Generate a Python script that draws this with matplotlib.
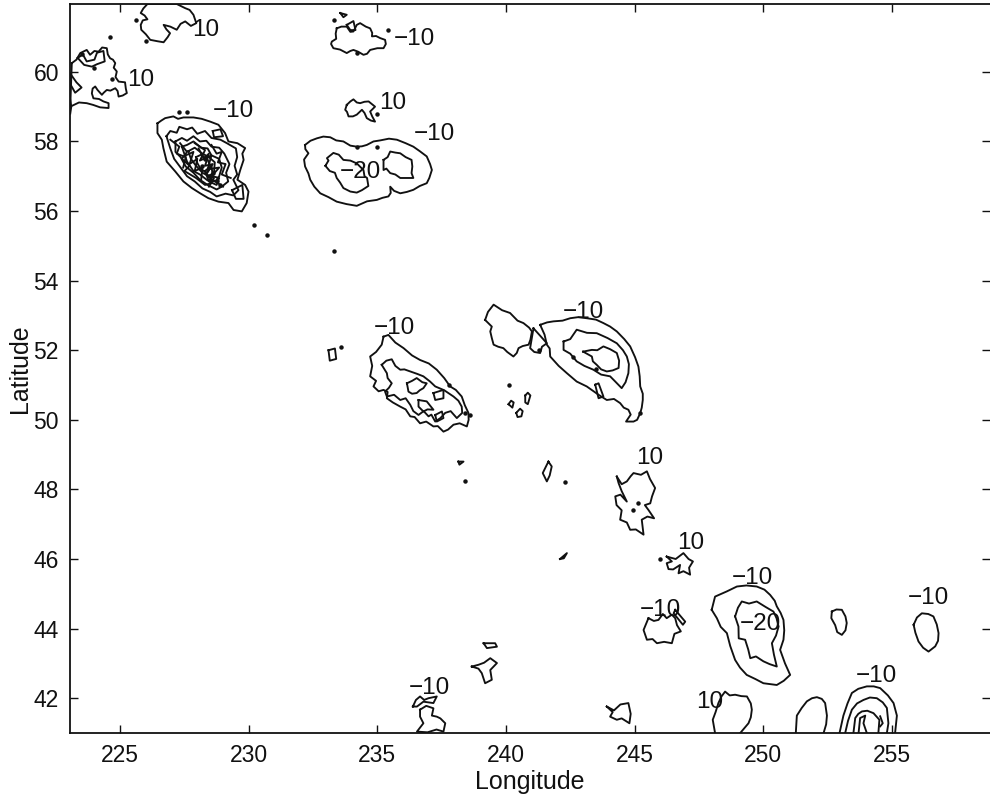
import numpy as np
import matplotlib
matplotlib.use('Agg')
import matplotlib.pyplot as plt

plt.rcParams['font.family'] = ['Liberation Sans', 'DejaVu Sans']

xticks = [225, 230, 235, 240, 245, 250, 255]
yticks = [42, 44, 46, 48, 50, 52, 54, 56, 58, 60]

# closed contours, (longitude, latitude)
top_left = [(226.06,61.95),(225.9,61.82),(225.8,61.69),(225.95,61.62),(226.06,61.51),(225.88,61.48),(225.8,61.35),(225.82,61.21),(226.0,61.08),(226.17,60.92),(226.45,60.88),(226.69,60.85),(226.85,61.0),(226.94,61.11),(226.8,61.22),(226.69,61.35),(226.95,61.3),(227.2,61.21),(227.35,61.38),(227.53,61.45),(227.75,61.32),(227.96,61.40),(227.85,61.64),(227.7,61.78),(227.53,61.83),(227.2,61.95)]
far_left = [(223.12,60.25),(223.3,60.35),(223.45,60.54),(223.70,60.63),(223.83,60.49),(224.0,60.6),(224.16,60.58),(224.3,60.7),(224.48,60.68),(224.52,60.5),(224.61,60.39),(224.72,60.35),(224.81,60.25),(224.75,60.12),(224.87,60.01),(224.82,59.85),(224.94,59.72),(225.19,59.7),(225.22,59.52),(225.26,59.39),(225.1,59.32),(224.94,59.29),(224.9,59.45),(224.81,59.53),(224.62,59.46),(224.48,59.48),(224.36,59.4),(224.29,59.34),(224.12,59.48),(224.03,59.58),(223.93,59.52),(223.9,59.38),(223.96,59.24),(224.18,59.22),(224.35,59.15),(224.55,59.1),(224.55,58.96),(224.22,58.98),(223.95,59.05),(223.7,59.10),(223.4,59.12),(223.06,59.0)]
far_left_in = [(223.35,60.4),(223.55,60.5),(223.7,60.3),(224.0,60.35),(224.1,60.55),(224.35,60.6),(224.4,60.3),(224.1,60.22),(223.9,60.15),(223.6,60.2)]
far_left_bar = [(223.06,59.95),(223.3,59.7),(223.5,59.55),(223.25,59.4),(223.06,59.65)]
top_mid = [(233.42,61.25),(233.6,61.3),(233.81,61.30),(233.95,61.15),(234.07,61.16),(234.2,61.35),(234.33,61.40),(234.55,61.3),(234.72,61.25),(234.8,61.12),(234.79,61.02),(234.95,61.03),(235.11,60.97),(235.3,60.92),(235.33,60.8),(235.24,60.68),(235.0,60.68),(234.72,60.63),(234.6,60.52),(234.46,60.49),(234.25,60.58),(234.07,60.63),(233.95,60.6),(233.81,60.54),(233.55,60.64),(233.29,60.68),(233.2,60.8),(233.23,60.87),(233.4,60.95),(233.38,61.1)]
top_mid_a = [(233.56,61.69),(233.81,61.64),(233.68,61.57)]
top_mid_b = [(233.81,61.35),(234.07,61.46),(234.15,61.2),(233.95,61.2)]
ten_mid = [(233.81,59.05),(233.95,59.15),(234.07,59.21),(234.2,59.12),(234.33,59.1),(234.5,59.14),(234.66,59.15),(234.91,59.0),(234.72,58.86),(234.8,58.72),(234.91,58.57),(234.75,58.6),(234.59,58.67),(234.5,58.82),(234.4,58.91),(234.2,58.77),(234.05,58.72),(233.88,58.72),(233.82,58.85),(233.75,58.91)]
oval_out = [(232.19,57.90),(232.4,58.02),(232.65,58.09),(232.9,58.14),(233.17,58.12),(233.4,58.03),(233.68,58.0),(233.95,57.88),(234.2,57.85),(234.4,57.86),(234.59,57.90),(234.85,58.0),(235.11,58.03),(235.45,58.08),(235.76,58.05),(236.1,57.95),(236.4,57.85),(236.65,57.72),(236.92,57.57),(237.05,57.35),(237.12,57.18),(237.02,56.95),(236.92,56.8),(236.65,56.72),(236.4,56.61),(236.15,56.55),(235.89,56.51),(235.65,56.58),(235.5,56.7),(235.52,56.52),(235.43,56.42),(235.2,56.38),(234.98,56.32),(234.6,56.28),(234.2,56.15),(233.8,56.2),(233.42,56.27),(233.1,56.4),(232.78,56.51),(232.55,56.7),(232.39,56.9),(232.32,57.08),(232.19,57.28),(232.15,57.48),(232.32,57.66),(232.2,57.78)]
oval_in_l = [(232.98,57.3),(233.1,57.45),(233.04,57.52),(233.29,57.67),(233.5,57.62),(233.68,57.47),(233.95,57.45),(234.2,57.37),(234.35,57.26),(234.46,57.18),(234.5,57.0),(234.6,56.95),(234.65,56.72),(234.4,56.6),(234.2,56.53),(233.95,56.56),(233.68,56.66),(233.55,56.82),(233.42,56.95),(233.35,57.1),(233.15,57.15)]
oval_in_r = [(235.24,57.47),(235.4,57.55),(235.5,57.71),(235.7,57.68),(235.89,57.66),(236.1,57.55),(236.33,57.47),(236.36,57.28),(236.33,57.09),(236.4,56.95),(235.89,56.95),(235.7,57.05),(235.5,57.09),(235.35,57.22),(235.24,57.18)]
cluster_out = [(226.45,58.52),(226.6,58.6),(226.75,58.67),(227.07,58.72),(227.25,58.65),(227.46,58.69),(227.85,58.69),(228.17,58.65),(228.5,58.57),(228.82,58.48),(229.08,58.24),(229.21,58.0),(229.56,57.95),(229.86,57.81),(229.75,57.65),(229.8,57.47),(229.67,57.18),(229.56,56.9),(229.86,56.75),(229.99,56.56),(229.92,56.23),(229.73,55.99),(229.41,56.03),(229.21,56.23),(228.82,56.27),(228.43,56.37),(228.11,56.51),(227.79,56.66),(227.46,56.85),(227.14,57.14),(226.81,57.42),(226.68,57.81),(226.62,58.05),(226.45,58.24)]
cluster_1 = [(226.8,58.15),(226.95,58.3),(227.2,58.25),(227.3,58.42),(227.6,58.35),(227.8,58.4),(228.0,58.22),(228.3,58.3),(228.55,58.1),(228.9,58.05),(229.15,57.95),(229.5,57.8),(229.55,57.55),(229.45,57.3),(229.55,57.05),(229.4,56.9),(229.6,56.6),(229.4,56.45),(229.1,56.5),(228.75,56.42),(228.5,56.55),(228.2,56.65),(227.9,56.85),(227.6,57.0),(227.3,57.3),(227.1,57.5),(226.95,57.8)]
cluster_2 = [(227.15,58.0),(227.4,58.1),(227.6,58.02),(227.85,58.15),(228.1,58.0),(228.35,58.02),(228.55,57.85),(228.85,57.82),(229.05,57.65),(229.25,57.35),(229.12,57.1),(229.2,56.85),(228.95,56.7),(228.75,56.62),(228.4,56.75),(228.1,56.9),(227.85,57.1),(227.55,57.28),(227.35,57.55),(227.15,57.7)]
cluster_3 = [(227.4,57.85),(227.6,57.9),(227.85,58.0),(228.15,57.82),(228.4,57.8),(228.55,57.6),(228.85,57.5),(228.95,57.25),(228.85,57.0),(228.7,56.85),(228.4,56.88),(228.1,57.05),(227.85,57.15),(227.6,57.42)]
cluster_4 = [(227.65,57.72),(227.9,57.82),(228.2,57.65),(228.45,57.55),(228.68,57.4),(228.65,57.12),(228.45,57.0),(228.2,57.1),(227.95,57.3),(227.75,57.5)]
cluster_5 = [(227.95,57.55),(228.15,57.62),(228.4,57.48),(228.52,57.25),(228.35,57.1),(228.12,57.22),(228.0,57.38)]
cluster_6 = [(227.33,57.95),(227.6,57.7),(227.4,57.5),(227.7,57.3),(227.5,57.15),(227.95,56.95),(228.3,56.75),(228.55,56.8)]
cluster_7 = [(227.9,57.95),(228.3,57.75),(228.1,57.45),(228.55,57.6),(228.4,57.2),(228.85,57.25),(228.5,56.95),(229.0,56.7)]
cluster_8 = [(228.6,58.3),(228.9,58.35),(229.0,58.15),(228.65,58.12)]
cluster_9 = [(229.35,56.6),(229.75,56.75),(229.8,56.35),(229.5,56.35)]
cluster_10 = [(228.05,57.8),(228.25,57.5),(228.45,57.65),(228.3,57.3),(228.6,57.35),(228.35,57.05),(228.65,56.95),(228.45,56.7)]
cluster_11 = [(227.55,57.6),(227.85,57.7),(227.7,57.35),(228.0,57.5),(227.9,57.15),(228.2,57.25),(228.15,56.9)]
cluster_12 = [(228.55,57.9),(228.75,57.65),(228.95,57.7),(228.8,57.4),(229.1,57.35),(228.95,57.05),(229.3,56.95)]
cluster_13 = [(228.3,57.15),(228.55,57.3),(228.6,57.0),(228.85,56.95),(228.75,56.75),(228.45,56.85)]
cluster_14 = [(226.95,58.05),(227.3,57.85),(227.2,57.65),(227.55,57.55),(227.45,57.25)]
lobe_west = [(235.24,52.39),(235.43,52.44),(235.7,52.22),(236.02,52.06),(236.35,51.85),(236.66,51.72),(237.0,51.62),(237.31,51.44),(237.6,51.2),(237.83,50.96),(238.05,50.86),(238.28,50.67),(238.4,50.42),(238.54,50.2),(238.55,50.0),(238.48,49.81),(238.2,49.9),(237.96,49.86),(237.75,49.72),(237.57,49.66),(237.35,49.82),(237.18,49.81),(236.9,49.95),(236.66,49.9),(236.45,50.08),(236.28,50.1),(236.1,50.3),(235.89,50.38),(235.6,50.5),(235.37,50.62),(235.4,50.8),(235.24,50.86),(235.05,50.82),(234.85,50.96),(234.95,51.12),(234.72,51.25),(234.8,51.55),(234.72,51.82),(234.95,51.95),(235.17,52.16)]
lobe_west_1 = [(235.17,51.58),(235.35,51.7),(235.56,51.74),(235.7,51.55),(235.89,51.44),(236.05,51.45),(236.28,51.39),(236.55,51.32),(236.79,51.25),(237.05,51.1),(237.25,50.96),(237.6,50.85),(237.96,50.67),(238.15,50.55),(238.28,50.38),(238.3,50.2),(238.09,50.05),(237.85,50.25),(237.64,50.2),(237.45,50.05),(237.25,49.95),(237.1,50.15),(236.99,50.1),(236.8,50.25),(236.6,50.14),(236.4,50.25),(236.28,50.43),(236.1,50.62),(235.89,50.57),(235.65,50.72),(235.37,50.67),(235.3,50.81),(235.45,50.92),(235.56,51.05),(235.4,51.2),(235.37,51.34)]
lobe_west_2 = [(236.15,51.05),(236.35,51.12),(236.53,51.2),(236.75,51.08),(236.92,51.05),(236.79,50.91),(236.65,50.85),(236.53,50.77),(236.35,50.75),(236.21,50.81)]
lobe_west_3 = [(236.6,50.57),(236.92,50.53),(237.18,50.29),(236.95,50.3),(236.79,50.24),(236.6,50.38)]
lobe_west_4 = [(237.25,50.14),(237.51,50.24),(237.57,50.05),(237.31,49.95)]
lobe_west_5 = [(237.18,50.77),(237.57,50.86),(237.57,50.62),(237.25,50.57)]
mid_a = [(239.19,52.87),(239.3,53.1),(239.52,53.31),(239.85,53.15),(240.16,53.07),(240.45,52.85),(240.68,52.78),(240.9,52.65),(241.01,52.54),(240.95,52.3),(240.88,52.16),(240.65,52.12),(240.49,52.06),(240.42,51.92),(240.29,51.82),(240.05,51.95),(239.9,52.06),(239.7,52.1),(239.52,52.16),(239.45,52.35),(239.39,52.54),(239.45,52.68)]
mid_b = [(241.07,52.63),(241.35,52.4),(241.59,52.2),(241.4,52.1),(241.33,51.92),(241.1,51.95),(240.94,52.06)]
mid_c = [(241.33,52.73),(241.6,52.8),(241.85,52.83),(242.2,52.85),(242.5,52.92),(242.8,52.95),(243.14,52.92),(243.5,52.88),(243.79,52.78),(244.05,52.68),(244.31,52.54),(244.6,52.32),(244.83,52.11),(245.02,51.8),(245.15,51.53),(245.2,51.25),(245.22,50.96),(245.32,50.75),(245.32,50.57),(245.28,50.35),(245.22,50.19),(245.1,50.0),(244.96,49.95),(244.67,49.95),(244.85,50.15),(244.76,50.29),(244.58,50.35),(244.44,50.48),(244.2,50.6),(243.92,50.57),(243.6,50.72),(243.14,50.96),(242.75,51.1),(242.37,51.34),(242.05,51.55),(241.72,51.82),(241.7,52.05),(241.59,52.16),(241.5,52.45)]
mid_c_1 = [(242.24,52.25),(242.5,52.32),(242.75,52.59),(243.15,52.5),(243.53,52.49),(243.95,52.35),(244.31,52.2),(244.55,52.0),(244.7,51.82),(244.78,51.6),(244.76,51.34),(244.65,51.08),(244.5,50.91),(244.25,51.1),(244.05,51.25),(243.7,51.3),(243.4,51.44),(243.05,51.55),(242.75,51.68),(242.5,51.9),(242.24,52.01)]
mid_c_2 = [(243.0,51.96),(243.34,52.01),(243.55,52.0),(243.79,52.11),(244.05,52.03),(244.31,51.92),(244.4,51.7),(244.38,51.49),(244.15,51.42),(243.92,51.39),(243.7,51.45),(243.53,51.58),(243.38,51.68),(243.34,51.82)]
mid_c_3 = [(243.47,51.01),(243.6,51.05),(243.79,50.67),(243.6,50.62)]
ten_a = [(244.31,48.37),(244.5,48.15),(244.7,48.23),(244.85,48.38),(244.96,48.47),(245.25,48.42),(245.48,48.52),(245.6,48.3),(245.8,48.04),(245.68,47.8),(245.61,47.6),(245.4,47.55),(245.54,47.41),(245.76,47.17),(245.5,47.22),(245.28,47.13),(245.35,46.7),(245.05,46.85),(244.83,46.84),(244.7,47.05),(244.44,47.13),(244.5,47.4),(244.3,47.55),(244.25,47.8),(244.45,47.85),(244.7,47.65),(244.5,47.95),(244.38,48.18)]
ten_b = [(246.25,46.07),(246.6,46.0),(246.9,46.17),(247.1,46.0),(247.27,45.93),(247.12,45.75),(247.16,45.55),(246.9,45.65),(246.71,45.59),(246.77,45.83),(246.5,45.7),(246.32,45.71),(246.25,45.88),(246.45,45.93)]
neg_a = [(245.54,44.3),(245.75,44.22),(245.93,44.25),(246.1,44.42),(246.25,44.3),(246.45,44.4),(246.58,44.3),(246.65,44.1),(246.8,43.92),(246.55,43.85),(246.45,43.58),(246.15,43.62),(245.87,43.58),(245.7,43.7),(245.48,43.68),(245.35,43.96)]
neg_a_s = [(246.58,44.54),(246.97,44.2),(246.88,44.11),(246.52,44.44)]
low_a = [(236.38,41.76),(236.5,41.95),(236.66,42.05),(236.82,41.95),(236.99,42.0),(237.31,42.05),(237.18,41.86),(236.79,41.9),(236.54,41.76)]
low_b = [(236.66,41.67),(236.9,41.78),(237.18,41.71),(237.12,41.5),(237.31,41.47),(237.45,41.42),(237.64,41.28),(237.57,41.04),(237.3,41.1),(236.95,41.02),(236.54,41.04),(236.79,41.28),(236.66,41.47)]
low_c = [(238.67,42.91),(238.93,42.96),(239.15,43.02),(239.39,43.15),(239.65,43.01),(239.39,42.81),(239.45,42.53),(239.19,42.43),(239.06,42.72),(238.93,42.85)]
low_d = [(239.13,43.58),(239.58,43.58),(239.65,43.48),(239.26,43.44)]
low_e = [(243.92,41.76),(244.2,41.65),(244.45,41.82),(244.76,41.86),(244.85,41.55),(244.8,41.28),(244.5,41.42),(244.31,41.38),(244.05,41.47),(244.15,41.6)]
small_a = [(241.65,48.8),(241.78,48.66),(241.7,48.4),(241.59,48.23),(241.43,48.47)]
small_b = [(238.15,48.8),(238.35,48.8),(238.19,48.71)]
small_c = [(242.1,46.0),(242.37,46.17),(242.25,46.02)]
small_d = [(233.1,52.0),(233.35,52.05),(233.4,51.75),(233.15,51.7)]
small_e = [(240.1,50.45),(240.2,50.55),(240.3,50.5),(240.25,50.35)]
small_f = [(240.75,50.7),(240.85,50.78),(240.95,50.7),(240.85,50.45),(240.75,50.5)]
small_g = [(240.4,50.2),(240.55,50.32),(240.65,50.25),(240.6,50.1),(240.45,50.08)]
big_a = [(248.0,44.54),(248.13,44.92),(248.59,45.07),(248.98,45.21),(249.35,45.24),(249.75,45.21),(250.05,45.12),(250.27,44.97),(250.45,44.8),(250.53,44.64),(250.68,44.45),(250.79,44.25),(250.82,43.95),(250.79,43.68),(250.66,43.39),(250.85,43.0),(251.05,42.67),(250.8,42.5),(250.53,42.38),(250.01,42.43),(249.7,42.55),(249.36,42.67),(249.1,42.88),(248.91,43.1),(248.72,43.5),(248.59,43.87),(248.35,44.05),(248.2,44.3)]
big_b = [(248.91,44.35),(249.02,44.6),(249.17,44.78),(249.45,44.72),(249.75,44.78),(250.1,44.62),(250.4,44.49),(250.52,44.3),(250.6,44.06),(250.5,43.8),(250.34,43.58),(250.42,43.25),(250.53,42.91),(250.25,42.98),(250.01,43.06),(249.72,43.2),(249.5,43.15),(249.42,43.4),(249.3,43.68),(249.05,43.72),(249.04,44.06)]
east_a = [(252.67,44.49),(252.85,44.55),(253.06,44.54),(253.2,44.35),(253.25,44.16),(253.2,43.95),(253.06,43.82),(252.88,43.9),(252.8,44.1),(252.65,44.3)]
east_b = [(255.85,44.11),(255.98,44.32),(256.17,44.44),(256.42,44.42),(256.62,44.35),(256.75,44.12),(256.82,43.87),(256.8,43.65),(256.69,43.49),(256.43,43.34),(256.22,43.45),(256.04,43.63),(255.92,43.88)]

# contours cut by the bottom axis
open_a = [(248.13,41.0),(248.04,41.38),(248.15,41.6),(248.26,41.86),(248.38,42.05),(248.52,42.19),(248.7,42.08),(248.91,42.1),(249.15,42.06),(249.37,42.05),(249.52,41.85),(249.56,41.67),(249.52,41.45),(249.43,41.28),(249.11,41.0)]
open_b = [(251.27,41.0),(251.31,41.5),(251.5,41.72),(251.7,41.91),(251.9,42.0),(252.09,42.03),(252.28,41.98),(252.41,41.86),(252.48,41.5),(252.45,41.25),(252.35,41.0)]
open_c = [(252.97,41.0),(253.12,41.5),(253.28,41.85),(253.45,42.15),(253.7,42.27),(254.03,42.34),(254.3,42.34),(254.55,42.29),(254.85,42.08),(255.07,41.86),(255.2,41.5),(255.13,41.0)]
open_d = [(253.19,41.0),(253.3,41.35),(253.45,41.67),(253.65,41.85),(253.9,41.95),(254.15,42.02),(254.42,42.0),(254.65,41.88),(254.81,41.72),(254.87,41.28),(254.81,41.0)]
open_e = [(253.51,41.0),(253.58,41.43),(253.7,41.55),(253.84,41.62),(254.05,41.64),(254.29,41.57),(254.52,41.38),(254.48,41.0)]
open_f = [(253.71,41.0),(253.77,41.43),(253.97,41.5),(253.9,41.28),(254.03,41.0)]
open_g = [(254.55,41.48),(254.65,41.28),(254.55,41.19)]
top_left_bar = [(223.06,59.2),(223.1,59.0),(223.06,58.8)]

closed = [top_left, far_left, far_left_in, far_left_bar, top_mid, top_mid_a, top_mid_b, ten_mid, oval_out, oval_in_l, oval_in_r,
          cluster_out, cluster_1, cluster_2, cluster_3, cluster_4, cluster_5, cluster_8, cluster_9, cluster_13,
          lobe_west, lobe_west_1, lobe_west_2, lobe_west_3, lobe_west_4, lobe_west_5,
          mid_a, mid_b, mid_c, mid_c_1, mid_c_2, mid_c_3, ten_a, ten_b, neg_a, neg_a_s,
          low_a, low_b, low_c, low_d, low_e, small_a, small_b, small_c, small_d, small_e, small_f, small_g,
          big_a, big_b, east_a, east_b]
opened = [cluster_6, cluster_7, cluster_10, cluster_11, cluster_12, cluster_14,
          open_a, open_b, open_c, open_d, open_e, open_f, open_g, top_left_bar]

dot_lon = [225.6,226.0,224.6,223.5,224.0,224.7,233.3,234.2,235.0,235.4,227.3,227.6,230.2,230.7,233.3,234.2,235.0,238.4,242.3,238.4,244.95,245.15,241.3,243.5,242.6,238.6,237.8,245.2,246.0,233.6,240.1,228.5,228.9,228.2,228.6,228.45,228.75,228.3]
dot_lat = [61.5,60.9,61.0,60.5,60.1,59.8,61.5,60.55,58.8,61.2,58.85,58.85,55.6,55.3,54.85,57.85,57.85,50.2,48.2,48.25,47.4,47.6,52.0,51.45,51.8,50.15,51.0,50.2,46.0,52.1,51.0,56.9,56.75,57.3,57.1,57.0,56.85,57.5]

label_text = ['10','10','\u221210','10','\u221210','\u221210','\u221220','\u221210','\u221210','10','10','\u221210','\u221210','\u221220','\u221210','\u221210','10','\u221210']
label_lon = [228.34,225.78,236.43,235.6,229.4,237.2,234.33,235.65,243.0,245.57,247.2,246.0,249.58,249.88,256.42,237.01,247.94,254.39]
label_lat = [61.2,59.77,60.95,59.1,58.88,58.22,57.13,52.65,53.1,48.91,46.47,44.54,45.46,44.14,44.89,42.3,41.9,42.64]

fig = plt.figure(figsize=(9.9, 8), dpi=100)
ax = fig.add_axes([70/990, 1-733/800, 920/990, 729/800])
ink = '#111111'

for c in closed:
    pts = np.array(c + [c[0]])
    ax.plot(pts[:, 0], pts[:, 1], color=ink, lw=1.35)
for c in opened:
    pts = np.array(c)
    ax.plot(pts[:, 0], pts[:, 1], color=ink, lw=1.35)
ax.plot(dot_lon, dot_lat, ls='none', marker='o', ms=2.2, color=ink)

for s, x, y in zip(label_text, label_lon, label_lat):
    ax.text(x, y, s, fontsize=17.5, color=ink, ha='center', va='center')

ax.set_xlim(223.05, 258.82)
ax.set_ylim(41, 61.95)
ax.set_xticks(xticks)
ax.set_yticks(yticks)
ax.tick_params(direction='in', length=6, width=1, top=True, right=True, labelsize=16.5, colors=ink, pad=8)
ax.spines['right'].set_visible(False)
for k in ['left', 'top', 'bottom']:
    ax.spines[k].set_linewidth(1.3)
    ax.spines[k].set_color(ink)
ax.set_xlabel('Longitude', fontsize=18, color=ink, labelpad=2)
ax.set_ylabel('Latitude', fontsize=18, color=ink, labelpad=1)

fig.savefig('out.png', dpi=100)
